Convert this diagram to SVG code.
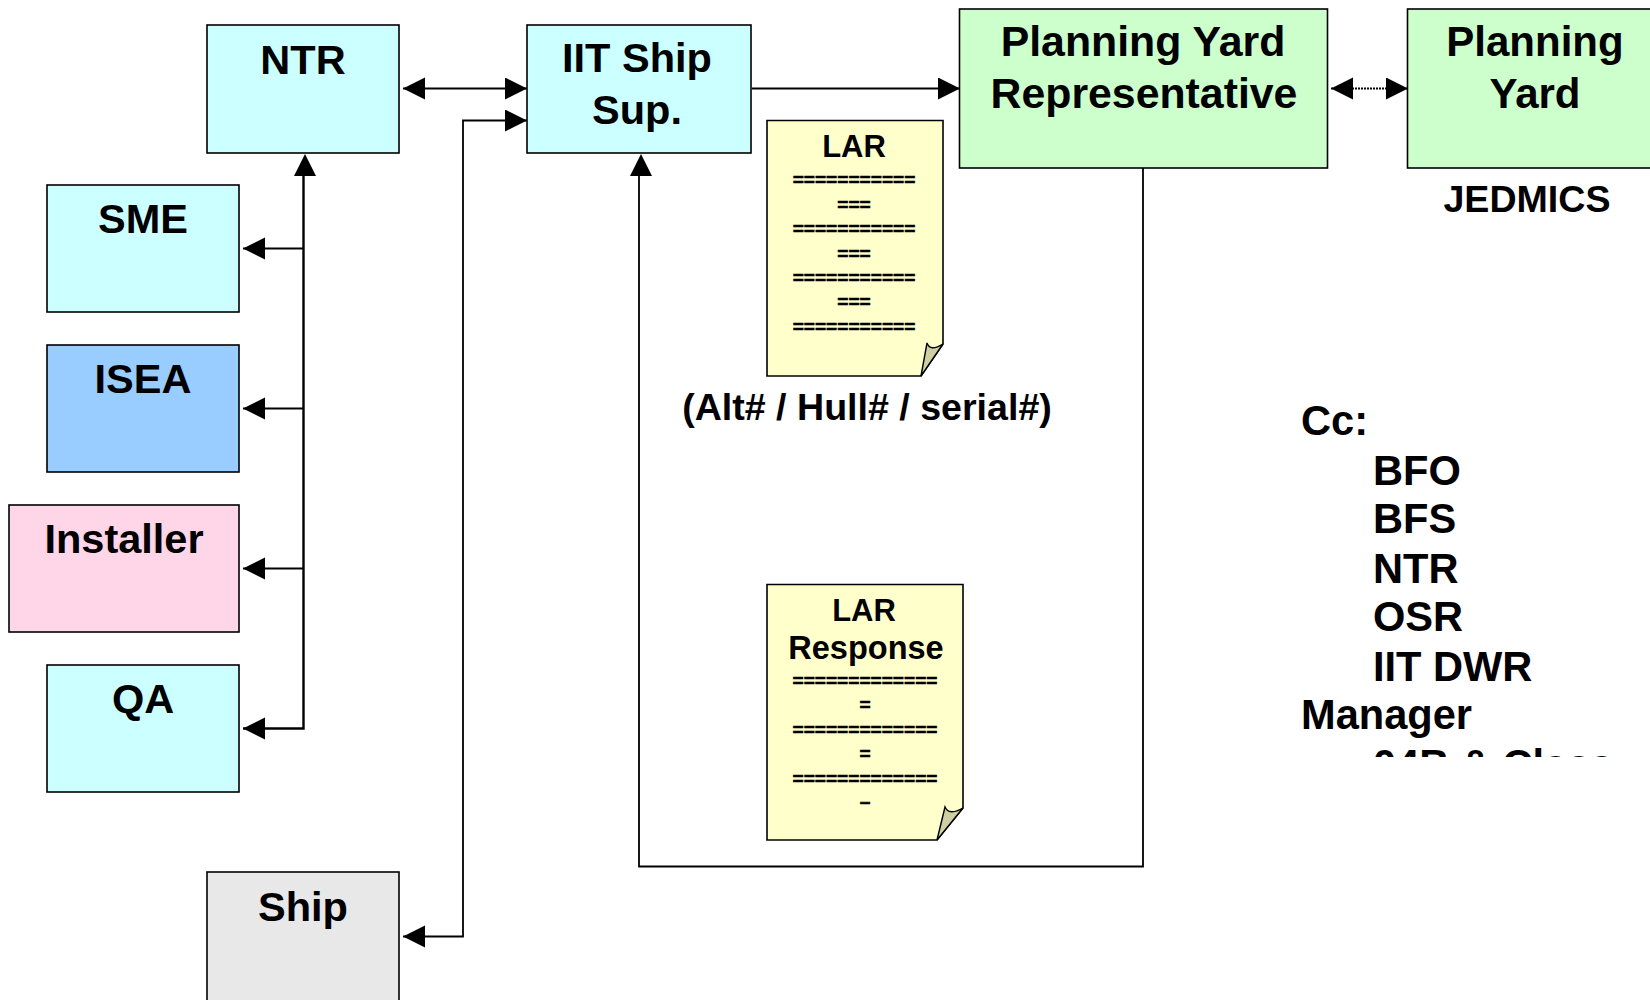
<svg xmlns="http://www.w3.org/2000/svg" width="1650" height="1000" viewBox="0 0 1650 1000">
<style>
text{font-family:"Liberation Sans",Arial,sans-serif;font-weight:bold;fill:#000;text-anchor:middle}
.b{stroke:#000;stroke-width:1.6}
.c{fill:none;stroke:#000;stroke-width:1.8}
.t{font-size:41.5px}
.r{font-size:42.8px}
.d{font-size:31px}
.rs{font-size:32.5px}
.q{font-size:19.1px;stroke:#000;stroke-width:.6}
.e{font-size:37.6px}
.cc{font-size:41.6px;text-anchor:start}
.p{stroke:#000;stroke-width:1.6;fill:#ffffcc}
.f{stroke:#000;stroke-width:1.4;fill:#cfcfa3}
</style>
<defs>
<marker id="a" markerUnits="userSpaceOnUse" markerWidth="24" markerHeight="24" refX="22" refY="11" orient="auto-start-reverse"><path d="M0 0L22 11L0 22Z" fill="#000"/></marker>
<clipPath id="cl"><rect x="1290" y="400" width="360" height="357"/></clipPath>
</defs>
<g id="connectors">
<path class="c" d="M403 88.500H527" marker-start="url(#a)" marker-end="url(#a)"/>
<path class="c" d="M403 936.500H463V120.500H527" marker-start="url(#a)" marker-end="url(#a)"/>
<path class="c" d="M752 88.500H960" marker-end="url(#a)"/>
<path class="c" d="M1331 88.500H1408" stroke-dasharray="2 1" marker-start="url(#a)" marker-end="url(#a)"/>
<path class="c" d="M1143 168V866.500H639V176"/>
<path d="M641 154L652 176H630Z" fill="#000"/>
<path class="c" d="M303.500 170V728.500H243" style="stroke-width:2.4" marker-end="url(#a)"/>
<path d="M305 154L316 176H294Z" fill="#000"/>
<path class="c" d="M303.500 248.500H243" marker-end="url(#a)"/>
<path class="c" d="M303.500 408.500H243" marker-end="url(#a)"/>
<path class="c" d="M303.500 568.500H243" marker-end="url(#a)"/>
</g>
<g id="ntr"><rect class="b" x="207" y="25" width="192" height="128" fill="#ccffff"/><text class="t" x="303" y="74">NTR</text></g>
<g id="iit"><rect class="b" x="527" y="25" width="224" height="128" fill="#ccffff"/><text class="t" x="637" y="72">IIT Ship</text><text class="t" x="637" y="124">Sup.</text></g>
<g id="rep"><rect class="b" x="959.500" y="9" width="368" height="159" fill="#ccffcc"/><text class="r" x="1143" y="56">Planning Yard</text><text class="r" x="1144" y="108">Representative</text></g>
<g id="yard"><rect class="b" x="1407.500" y="9" width="260" height="159" fill="#ccffcc"/><text class="t" style="font-size:42px" x="1535" y="56">Planning</text><text class="t" style="font-size:42px" x="1535" y="108">Yard</text></g>
<g id="sme"><rect class="b" x="47" y="185" width="192" height="127" fill="#ccffff"/><text class="t" x="143" y="233">SME</text></g>
<g id="isea"><rect class="b" x="47" y="345" width="192" height="127" fill="#99ccff"/><text class="t" x="143" y="393">ISEA</text></g>
<g id="installer"><rect class="b" x="9" y="505" width="230" height="127" fill="#ffd5e8"/><text class="t" x="124" y="553">Installer</text></g>
<g id="qa"><rect class="b" x="47" y="665" width="192" height="127" fill="#ccffff"/><text class="t" x="143" y="713">QA</text></g>
<g id="ship"><rect class="b" x="207" y="872" width="192" height="140" fill="#e8e8e8"/><text class="t" x="303" y="921">Ship</text></g>
<g id="lar">
<path class="p" d="M767 120.500H943V344L921 376H767Z"/>
<path class="f" d="M943 344Q930 352 927 343L921 376Z"/>
<text class="d" x="854" y="157">LAR</text>
<text class="q" x="854" y="186">===========</text>
<text class="q" x="854" y="211">===</text>
<text class="q" x="854" y="235">===========</text>
<text class="q" x="854" y="260">===</text>
<text class="q" x="854" y="284">===========</text>
<text class="q" x="854" y="308">===</text>
<text class="q" x="854" y="333">===========</text>
</g>
<g id="larresponse">
<path class="p" d="M767 584.500H963V808L937 840H767Z"/>
<path class="f" d="M963 808Q949 816 945 807L937 840Z"/>
<text class="d" x="864" y="621">LAR</text>
<text class="rs" x="866" y="659">Response</text>
<text class="q" x="865" y="687">=============</text>
<text class="q" x="865" y="711">=</text>
<text class="q" x="865" y="736">=============</text>
<text class="q" x="865" y="760">=</text>
<text class="q" x="865" y="785">=============</text>
<text class="q" x="865" y="808">–</text>
</g>
<text class="e" x="867" y="420">(Alt# / Hull# / serial#)</text>
<text class="e" x="1527" y="212">JEDMICS</text>
<g clip-path="url(#cl)">
<text class="cc" x="1301" y="435">Cc:</text>
<text class="cc" x="1373" y="485">BFO</text>
<text class="cc" x="1373" y="533">BFS</text>
<text class="cc" x="1373" y="583">NTR</text>
<text class="cc" x="1373" y="631">OSR</text>
<text class="cc" x="1373" y="681">IIT DWR</text>
<text class="cc" x="1301" y="729">Manager</text>
<text class="cc" x="1373" y="779">04B &amp; Class</text>
</g>
</svg>
